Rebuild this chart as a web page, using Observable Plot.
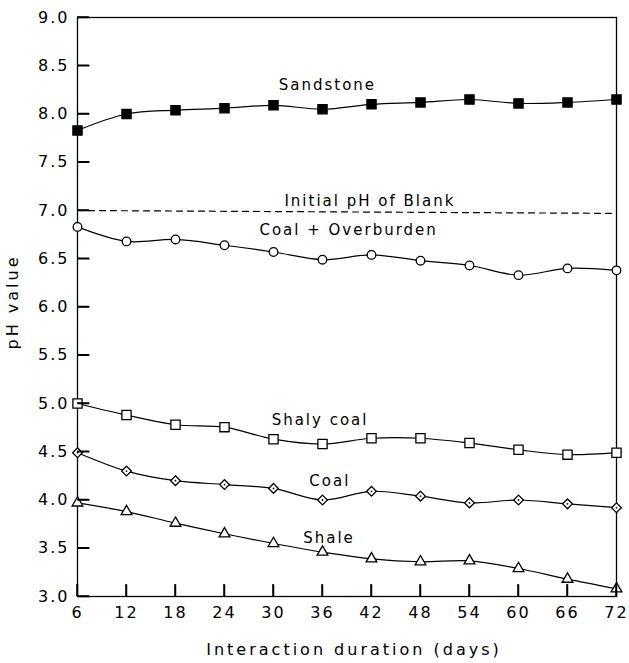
<!DOCTYPE html>
<html>
<head>
<meta charset="utf-8">
<script src="https://cdn.jsdelivr.net/npm/d3@7"></script>
<script src="https://cdn.jsdelivr.net/npm/@observablehq/plot@0.6"></script>
<style>
  html, body { margin: 0; padding: 0; background: #fff; overflow: hidden; }
  #chart svg { display: block; max-width: none !important; }
  svg { font-family: "DejaVu Sans", sans-serif; }
  svg text { letter-spacing: 2px; }
  svg text.title { letter-spacing: 3px; }
</style>
</head>
<body>
<div id="chart"></div>
<script>
const days = [6, 12, 18, 24, 30, 36, 42, 48, 54, 60, 66, 72];
const sandstone = [7.83, 8.0, 8.04, 8.06, 8.09, 8.05, 8.10, 8.12, 8.15, 8.11, 8.12, 8.15];
const coalOverburden = [6.83, 6.68, 6.70, 6.64, 6.57, 6.49, 6.54, 6.48, 6.43, 6.33, 6.40, 6.38];
const shalyCoal = [5.0, 4.88, 4.78, 4.755, 4.63, 4.58, 4.64, 4.64, 4.59, 4.52, 4.47, 4.49];
const coal = [4.49, 4.30, 4.20, 4.16, 4.12, 4.00, 4.09, 4.04, 3.97, 4.00, 3.96, 3.92];
const shale = [3.97, 3.88, 3.76, 3.65, 3.55, 3.46, 3.39, 3.36, 3.37, 3.29, 3.18, 3.08];
const blankDays = [6, 72];
const blankPH = [7.0, 6.97];
const xDomain = [6, 72];
const yDomain = [3, 9];
const yTicks = [3.0, 3.5, 4.0, 4.5, 5.0, 5.5, 6.0, 6.5, 7.0, 7.5, 8.0, 8.5, 9.0];
const xTicks = days;

const labelNames = ["Sandstone", "Initial pH of Blank", "Coal + Overburden", "Shaly coal", "Coal", "Shale"];
const labelDays = [36.6, 41.8, 39.2, 35.7, 36.9, 36.8];
const labelPH = [8.3, 7.1, 6.8, 4.83, 4.19, 3.6];

const series = [
  {name: "Sandstone", values: sandstone, symbol: "square", fill: "black", r: 5.2},
  {name: "Coal + Overburden", values: coalOverburden, symbol: "circle", fill: "white", r: 4.3},
  {name: "Shaly coal", values: shalyCoal, symbol: "square", fill: "white", r: 5.2},
  {name: "Coal", values: coal, symbol: "diamond2", fill: "white", r: 4.4},
  {name: "Shale", values: shale, symbol: "triangle", fill: "white", r: 4.0}
];
const rows = series.flatMap(s => days.map((d, i) => ({series: s.name, day: d, ph: s.values[i], symbol: s.symbol, fill: s.fill, r: s.r})));
const blank = blankDays.map((d, i) => ({day: d, ph: blankPH[i]}));
const labels = labelNames.map((n, i) => ({text: n, day: labelDays[i], ph: labelPH[i]}));
const coalRows = rows.filter(d => d.series === "Coal");

const font = "DejaVu Sans, sans-serif";
const W = 629, H = 663, mL = 77, mR = 13, mT = 17, mB = 67, tick = 12;
// tick length expressed in data units of each scale
const tickDays = tick * (xDomain[1] - xDomain[0]) / (W - mL - mR);
const tickPH = tick * (yDomain[1] - yDomain[0]) / (H - mT - mB);

const chart = Plot.plot({
  width: W,
  height: H,
  marginLeft: mL,
  marginRight: mR,
  marginTop: mT,
  marginBottom: mB,
  style: {fontFamily: font, background: "white", color: "black"},
  x: {domain: xDomain, axis: null},
  y: {domain: yDomain, axis: null},
  r: {type: "identity"},
  symbol: {type: "identity"},
  marks: [
    Plot.frame({stroke: "black", strokeWidth: 1.3}),
    Plot.axisY({ticks: yTicks, tickSize: 0, tickPadding: 8, tickFormat: d => d.toFixed(1), fontSize: 16, label: null}),
    Plot.axisX({ticks: xTicks, tickSize: 0, tickPadding: 10, fontSize: 16, label: null}),
    Plot.line(blank, {x: "day", y: "ph", stroke: "black", strokeWidth: 1.2, strokeDasharray: "6,5"}),
    Plot.line(rows, {x: "day", y: "ph", z: "series", stroke: "black", strokeWidth: 1.2, curve: "catmull-rom"}),
    Plot.dot(rows, {x: "day", y: "ph", symbol: "symbol", fill: "fill", stroke: "black", strokeWidth: 1.3, r: "r"}),
    Plot.dot(coalRows, {x: "day", y: "ph", fill: "black", r: 0.9}),
    Plot.text(labels, {x: "day", y: "ph", text: "text", fontSize: 15, textAnchor: "middle", fill: "black"}),
    // inward ticks, drawn last so nothing covers them
    Plot.link(yTicks, {x1: () => xDomain[0], x2: () => xDomain[0] + tickDays, y1: d => d, y2: d => d,
                       stroke: "black", strokeWidth: 1.5}),
    Plot.link(xTicks, {x1: d => d, x2: d => d, y1: () => yDomain[0], y2: () => yDomain[0] + tickPH,
                       stroke: "black", strokeWidth: 1.5})
  ]
});
document.getElementById("chart").appendChild(chart);

const svg = d3.select(chart);
// backup tick drawing through the chart's own scales
const sx = chart.scale("x"), sy = chart.scale("y");
const tg = svg.append("g").attr("class", "inward-ticks");
yTicks.forEach(v => {
  const y = sy.apply(v), x = sx.apply(xDomain[0]);
  tg.append("path").attr("d", `M${x},${y}H${x + tick}`).attr("stroke", "black").attr("stroke-width", 1.5).attr("fill", "none");
});
xTicks.forEach(v => {
  const x = sx.apply(v), y = sy.apply(yDomain[0]);
  tg.append("path").attr("d", `M${x},${y}V${y - tick}`).attr("stroke", "black").attr("stroke-width", 1.5).attr("fill", "none");
});

svg.append("text")
  .attr("class", "title")
  .attr("transform", "translate(18,302) rotate(-90)")
  .attr("text-anchor", "middle")
  .attr("font-size", 16)
  .attr("font-family", font)
  .attr("fill", "black")
  .text("pH value");
svg.append("text")
  .attr("class", "title")
  .attr("x", 354).attr("y", 655)
  .attr("text-anchor", "middle")
  .attr("font-size", 16)
  .attr("font-family", font)
  .attr("fill", "black")
  .text("Interaction duration (days)");
</script>
</body>
</html>
